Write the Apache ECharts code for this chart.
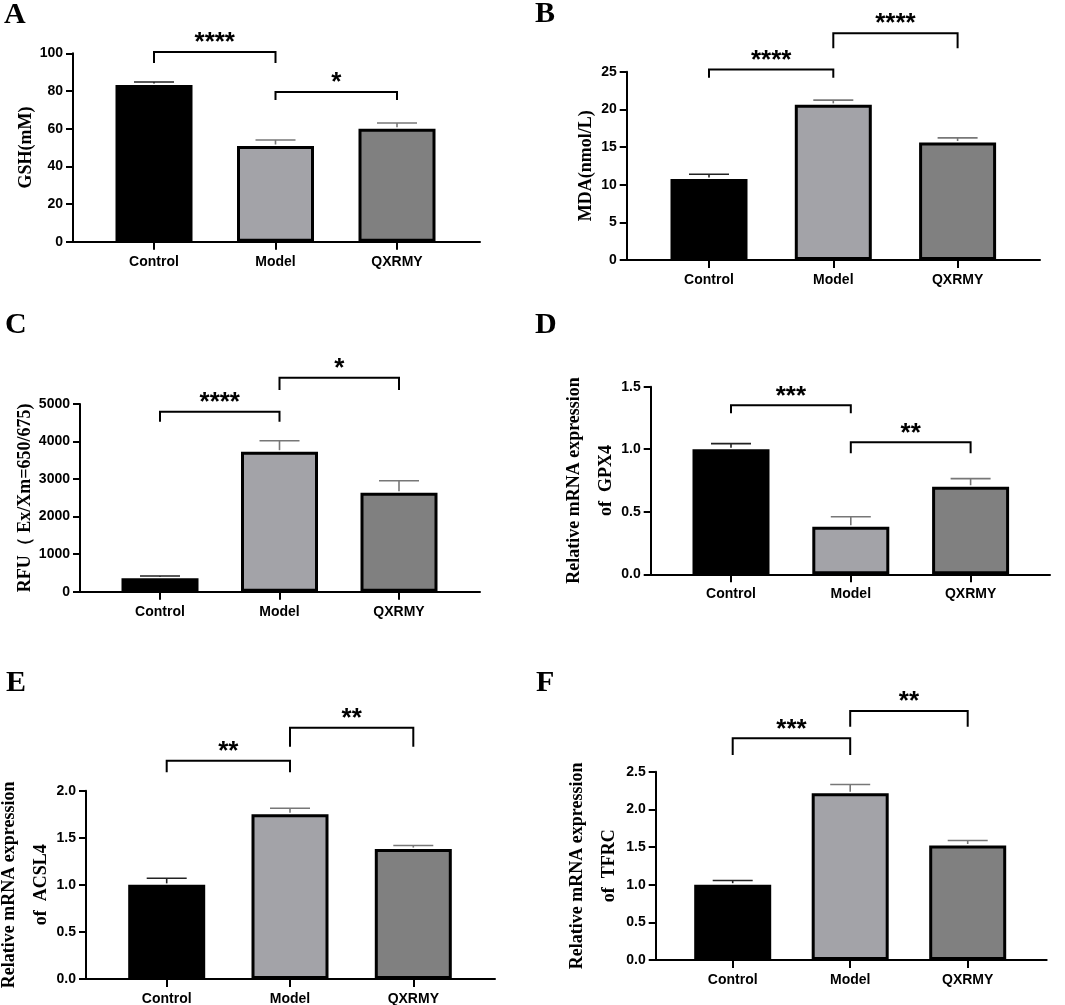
<!DOCTYPE html>
<html>
<head>
<meta charset="utf-8">
<script src="https://cdn.jsdelivr.net/npm/echarts@6.0.0/dist/echarts.min.js"></script>
<style>
  html, body { margin: 0; padding: 0; background: #fff; }
  #chart { width: 1065px; height: 1005px; }
</style>
</head>
<body>
<div id="chart"></div>
<script>
// groups shared by all six panels
const groups = ['Control', 'Model', 'QXRMY']

// mean and upper error (SD/SEM) per panel
const gshMean = [83.2, 50.8, 60.0]
const gshErr = [1.6, 3.2, 3.0]
const mdaMean = [10.75, 20.6, 15.6]
const mdaErr = [0.63, 0.62, 0.62]
const rfuMean = [357, 3730, 2637]
const rfuErr = [61, 293, 320]
const gpx4Mean = [1.0, 0.38, 0.70]
const gpx4Err = [0.045, 0.08, 0.065]
const acsl4Mean = [1.0, 1.75, 1.38]
const acsl4Err = [0.07, 0.064, 0.038]
const tfrcMean = [1.0, 2.215, 1.52]
const tfrcErr = [0.055, 0.115, 0.066]

// significance brackets: [from group, to group, bar level, leg end, stars]
const gshSig = [[0, 1, 100.7, 94.8, '****'], [1, 2, 79.5, 75.2, '*']]
const mdaSig = [[0, 1, 25.3, 24.2, '****'], [1, 2, 30.1, 28.1, '****']]
const rfuSig = [[0, 1, 4795, 4528, '****'], [1, 2, 5701, 5373, '*']]
const gpx4Sig = [[0, 1, 1.351, 1.287, '***'], [1, 2, 1.055, 0.967, '**']]
const acsl4Sig = [[0, 1, 2.319, 2.195, '**'], [1, 2, 2.669, 2.467, '**']]
const tfrcSig = [[0, 1, 2.943, 2.722, '***'], [1, 2, 3.306, 3.097, '**']]

const barColors = ['#000000', '#a3a3a8', '#808080']
const errColors = ['#222222', '#777777', '#777777']
const SANS = 'Arial, "Liberation Sans", sans-serif'
const SERIF = '"Times New Roman", "Liberation Serif", serif'

// box = [axis x, top, axis end x, zero y] in px; c0/band = first group centre and spacing
const panels = [
  { letter: 'A', name: 'GSH(mM)', mean: gshMean, err: gshErr, sig: gshSig, max: 100, step: 20, digits: 0,
    box: [73, 53.3, 480, 241.7], c0: 154, band: 121.5, nameGap: 31, letterPos: [4, 0] },
  { letter: 'B', name: 'MDA(nmol/L)', mean: mdaMean, err: mdaErr, sig: mdaSig, max: 25, step: 5, digits: 0,
    box: [626.7, 71.7, 1040, 260], c0: 709, band: 124.3, nameGap: 24, letterPos: [535, -1] },
  { letter: 'C', name: 'RFU（ Ex/Xm=650/675)', mean: rfuMean, err: rfuErr, sig: rfuSig, max: 5000, step: 1000, digits: 0,
    box: [80, 404, 480, 591.7], c0: 160, band: 119.5, nameGap: 39, letterPos: [5, 310] },
  { letter: 'D', name: 'Relative mRNA expression\nof  GPX4', mean: gpx4Mean, err: gpx4Err, sig: gpx4Sig, max: 1.5, step: 0.5, digits: 1,
    box: [650.7, 386.7, 1050, 574.3], c0: 731, band: 119.8, nameGap: 28, letterPos: [535, 310] },
  { letter: 'E', name: 'Relative mRNA expression\nof  ACSL4', mean: acsl4Mean, err: acsl4Err, sig: acsl4Sig, max: 2.0, step: 0.5, digits: 1,
    box: [86, 790.7, 495, 979], c0: 166.7, band: 123.3, nameGap: 29, letterPos: [6, 668] },
  { letter: 'F', name: 'Relative mRNA expression\nof  TFRC', mean: tfrcMean, err: tfrcErr, sig: tfrcSig, max: 2.5, step: 0.5, digits: 1,
    box: [655.7, 771.7, 1046.7, 960], c0: 732.7, band: 117.5, nameGap: 30, letterPos: [536, 668] }
]

const chart = echarts.init(document.getElementById('chart'), null, { renderer: 'canvas' })

const option = {
  animation: false,
  backgroundColor: '#fff',
  title: [], grid: [], xAxis: [], yAxis: [], series: []
}

panels.forEach((p, k) => {
  const [x0, top, x1, y0] = p.box
  const ticks = groups.map((g, i) => i)

  option.title.push({
    text: p.letter, left: p.letterPos[0], top: p.letterPos[1], padding: 0,
    textStyle: { fontFamily: SERIF, fontWeight: 'bold', fontSize: 30, color: '#000' }
  })
  option.grid.push({
    left: x0, top: top, width: x1 - x0, height: y0 - top,
    containLabel: false, outerBoundsMode: 'none'
  })

  option.xAxis.push({
    type: 'value', gridIndex: k,
    min: (x0 - p.c0) / p.band, max: (x1 - p.c0) / p.band,
    splitLine: { show: false },
    axisLine: { show: true, onZero: false, lineStyle: { color: '#000', width: 2 } },
    axisTick: { show: true, customValues: ticks, length: 8, lineStyle: { color: '#000', width: 2 } },
    axisLabel: {
      customValues: ticks, formatter: (v) => groups[Math.round(v)] || '',
      margin: 13, color: '#000', fontFamily: SANS, fontWeight: 'bold', fontSize: 14
    }
  })
  option.yAxis.push({
    type: 'value', gridIndex: k, min: 0, max: p.max, interval: p.step,
    name: p.name, nameLocation: 'middle', nameGap: p.nameGap, nameMoveOverlap: false,
    nameTextStyle: { fontFamily: SERIF, fontWeight: 'bold', fontSize: 18, lineHeight: 32, color: '#000' },
    splitLine: { show: false },
    axisLine: { show: true, onZero: false, lineStyle: { color: '#000', width: 2 } },
    axisTick: { show: true, length: 7, lineStyle: { color: '#000', width: 2 } },
    axisLabel: {
      formatter: (v) => v.toFixed(p.digits),
      margin: 10, color: '#000', fontFamily: SANS, fontWeight: 'bold', fontSize: 14
    }
  })

  // bars
  option.series.push({
    type: 'bar', xAxisIndex: k, yAxisIndex: k, barWidth: 77, z: 2,
    itemStyle: { borderColor: '#000', borderWidth: 3 },
    data: p.mean.map((v, i) => ({ value: [i, v], itemStyle: { color: barColors[i] } }))
  })

  // upper error bars
  option.series.push({
    type: 'custom', xAxisIndex: k, yAxisIndex: k, z: 3, clip: false,
    data: p.mean.map((v, i) => [i, v, p.err[i]]),
    renderItem: (params, api) => {
      const i = api.value(0)
      const base = api.coord([i, api.value(1)])
      const tip = api.coord([i, api.value(1) + api.value(2)])
      const col = errColors[params.dataIndex]
      return {
        type: 'group',
        children: [
          { type: 'line', shape: { x1: base[0], y1: base[1] - 1.5, x2: tip[0], y2: tip[1] }, style: { stroke: col, lineWidth: 1.6 } },
          { type: 'line', shape: { x1: tip[0] - 20, y1: tip[1], x2: tip[0] + 20, y2: tip[1] }, style: { stroke: col, lineWidth: 1.6 } }
        ]
      }
    }
  })

  // significance brackets
  option.series.push({
    type: 'custom', xAxisIndex: k, yAxisIndex: k, z: 4, clip: false,
    data: p.sig.map((s) => [s[0], s[1], s[2], s[3]]),
    renderItem: (params, api) => {
      const a = api.coord([api.value(0), api.value(2)])
      const b = api.coord([api.value(1), api.value(2)])
      const leg = api.coord([api.value(0), api.value(3)])[1]
      const stars = p.sig[params.dataIndex][4]
      return {
        type: 'group',
        children: [
          { type: 'polyline', shape: { points: [[a[0], leg], a, b, [b[0], leg]] },
            style: { stroke: '#000', lineWidth: 2, fill: 'none' } },
          { type: 'text', style: { text: stars, x: (a[0] + b[0]) / 2, y: a[1] - 9, align: 'center', verticalAlign: 'middle',
            font: 'bold 26px ' + SANS, fill: '#000' } }
        ]
      }
    }
  })
})

chart.setOption(option)
</script>
</body>
</html>
